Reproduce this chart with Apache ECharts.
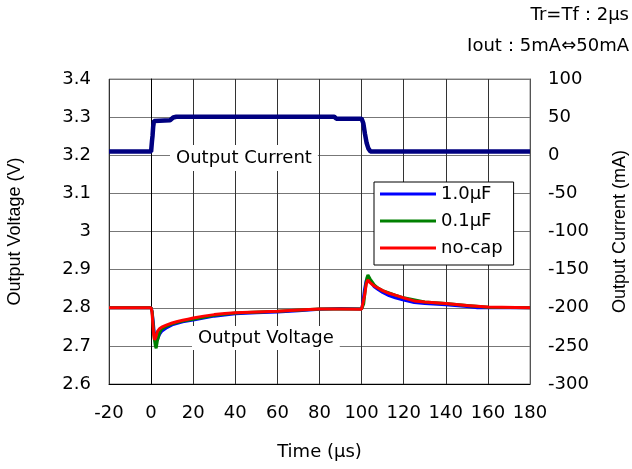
<!DOCTYPE html>
<html><head><meta charset="utf-8">
<script src="https://cdn.jsdelivr.net/npm/echarts@6/dist/echarts.min.js"></script>
<style>html,body{margin:0;padding:0;background:#fff}#c{width:632px;height:469px}</style>
</head><body><div id="c"></div>
<script>
// ---- axis ranges ----
const timeRange = [-20, 180, 20];
const voltRange = [2.6, 3.4, 0.1];
const currRange = [-300, 100, 50];

// ---- series names ----
const seriesNames = ['1.0µF', '0.1µF', 'no-cap'];

// ---- output current (mA) ----
const tCur = [-20, 0, 0.4, 0.7, 1.0, 1.4, 2, 9, 10.5, 12, 60, 87, 88, 100, 100.8, 101.6, 102.4, 103.2, 104.2, 180];
const iCur = [5, 5, 18, 26, 38, 45, 45.5, 46, 49.5, 50.5, 50.5, 50.5, 48, 48, 42, 28, 16, 9, 5, 5];

// ---- output voltage 1.0uF ----
const tBlue = [-20, 0, 0.5, 1, 1.5, 2, 2.5, 3, 4, 5, 7.5, 10, 15, 20, 30, 40, 50, 60, 70, 80, 90, 100, 100.5, 101.3, 102.2, 103, 104, 106, 108, 110, 113, 116, 120, 125, 130, 140, 150, 155, 180];
const vBlue = [2.8, 2.8, 2.79, 2.765, 2.735, 2.712, 2.708, 2.716, 2.73, 2.738, 2.748, 2.755, 2.763, 2.768, 2.778, 2.784, 2.787, 2.789, 2.792, 2.796, 2.798, 2.797, 2.81, 2.845, 2.872, 2.878, 2.869, 2.855, 2.847, 2.84, 2.832, 2.826, 2.82, 2.814, 2.811, 2.808, 2.803, 2.8, 2.8];

// ---- output voltage 0.1uF ----
const tGreen = [-20, 0, 0.5, 1, 1.5, 2, 2.4, 3, 4, 5, 7.5, 10, 15, 20, 30, 40, 60, 80, 100, 101, 101.8, 102.5, 103, 104, 106, 108, 110, 116, 120, 130, 140, 150, 160, 180];
const vGreen = [2.8, 2.8, 2.79, 2.755, 2.72, 2.70, 2.694, 2.714, 2.734, 2.744, 2.752, 2.758, 2.765, 2.77, 2.78, 2.786, 2.791, 2.797, 2.797, 2.81, 2.85, 2.878, 2.886, 2.876, 2.86, 2.851, 2.845, 2.833, 2.826, 2.815, 2.811, 2.806, 2.801, 2.8];

// ---- output voltage no-cap ----
const tRed = [-20, 0, 0.4, 0.8, 1.2, 1.6, 2.2, 3, 4, 5, 7.5, 10, 12.5, 15, 17.5, 20, 25, 30, 35, 40, 50, 60, 70, 80, 90, 100, 100.8, 101.5, 102.2, 103, 104, 106, 108, 110, 113, 116, 120, 125, 130, 135, 140, 150, 160, 180];
const vRed = [2.8, 2.8, 2.79, 2.76, 2.73, 2.716, 2.722, 2.738, 2.745, 2.749, 2.755, 2.76, 2.764, 2.767, 2.770, 2.773, 2.778, 2.782, 2.785, 2.787, 2.789, 2.791, 2.794, 2.797, 2.797, 2.796, 2.80, 2.835, 2.862, 2.873, 2.866, 2.857, 2.851, 2.845, 2.838, 2.833, 2.826, 2.818, 2.815, 2.813, 2.811, 2.806, 2.802, 2.8];

const zip = (a, b) => a.map((x, i) => [x, b[i]]);

const FONT = 'DejaVu Sans';
const FS = 18;
const lbl = {color: '#000', fontFamily: FONT, fontSize: FS};
const vName = {color: '#000', fontFamily: 'Liberation Sans', fontSize: 18};
const gfont = FS + 'px "' + FONT + '"';

const chart = echarts.init(document.getElementById('c'), null, {renderer: 'canvas'});
chart.setOption({
  animation: false,
  backgroundColor: '#fff',
  grid: {left: 109, right: 102, top: 79, bottom: 85, show: true, borderColor: '#888', borderWidth: 1,
         containLabel: false, outerBoundsMode: 'none'},
  xAxis: {
    type: 'value', min: timeRange[0], max: timeRange[1], interval: timeRange[2],
    name: 'Time (µs)', nameLocation: 'middle', nameGap: 59, nameTextStyle: lbl,
    axisLine: {show: true, onZero: false, lineStyle: {color: '#000', width: 1}},
    axisTick: {show: false},
    axisLabel: Object.assign({margin: 20}, lbl),
    splitLine: {show: true, lineStyle: {color: '#333', width: 1}}
  },
  yAxis: [{
    type: 'value', min: voltRange[0], max: voltRange[1], interval: voltRange[2],
    name: 'Output Voltage (V)', nameLocation: 'middle', nameGap: 85, nameRotate: 90, nameTextStyle: vName,
    axisLine: {show: true, lineStyle: {color: '#000', width: 1}},
    axisTick: {show: false},
    axisLabel: Object.assign({margin: 18}, lbl),
    splitLine: {show: true, lineStyle: {color: '#777', width: 1}}
  }, {
    type: 'value', position: 'right', min: currRange[0], max: currRange[1], interval: currRange[2],
    name: 'Output Current (mA)', nameLocation: 'middle', nameGap: 81, nameRotate: 90, nameTextStyle: vName,
    axisLine: {show: true, lineStyle: {color: '#555', width: 1}},
    axisTick: {show: false},
    axisLabel: Object.assign({margin: 18}, lbl),
    splitLine: {show: false}
  }],
  legend: {
    data: seriesNames,
    orient: 'vertical', left: 374, top: 182,
    backgroundColor: '#fff', borderColor: '#000', borderWidth: 1,
    padding: [3, 11, 8, 6], itemGap: 9, itemWidth: 56, itemHeight: 3, icon: 'rect',
    textStyle: {color: '#000', fontFamily: FONT, fontSize: FS, lineHeight: 18},
    z: 10
  },
  graphic: [
    {type: 'text', left: 170, top: 145, z: 100,
     style: {text: 'Output Current', fill: '#000', font: gfont, backgroundColor: '#fff', padding: [4, 6]}},
    {type: 'text', left: 192, top: 326, z: 100,
     style: {text: 'Output Voltage', fill: '#000', font: gfont, backgroundColor: '#fff', padding: [3, 6]}},
    {type: 'text', right: 3, top: 6, z: 100,
     style: {text: 'Tr=Tf：2µs', fill: '#000', font: gfont}},
    {type: 'text', right: 3, top: 37, z: 100,
     style: {text: 'Iout：5mA⇔50mA', fill: '#000', font: gfont}}
  ],
  series: [
    {name: 'Output Current', type: 'line', yAxisIndex: 1, symbol: 'none', data: zip(tCur, iCur),
     lineStyle: {color: '#000080', width: 4.5}, itemStyle: {color: '#000080'}, z: 3},
    {name: seriesNames[0], type: 'line', yAxisIndex: 0, symbol: 'none', data: zip(tBlue, vBlue),
     lineStyle: {color: '#0000ff', width: 3}, itemStyle: {color: '#0000ff'}, z: 4},
    {name: seriesNames[1], type: 'line', yAxisIndex: 0, symbol: 'none', data: zip(tGreen, vGreen),
     lineStyle: {color: '#008000', width: 3}, itemStyle: {color: '#008000'}, z: 5},
    {name: seriesNames[2], type: 'line', yAxisIndex: 0, symbol: 'none', data: zip(tRed, vRed),
     lineStyle: {color: '#ff0000', width: 3}, itemStyle: {color: '#ff0000'}, z: 6}
  ]
});
</script></body></html>
